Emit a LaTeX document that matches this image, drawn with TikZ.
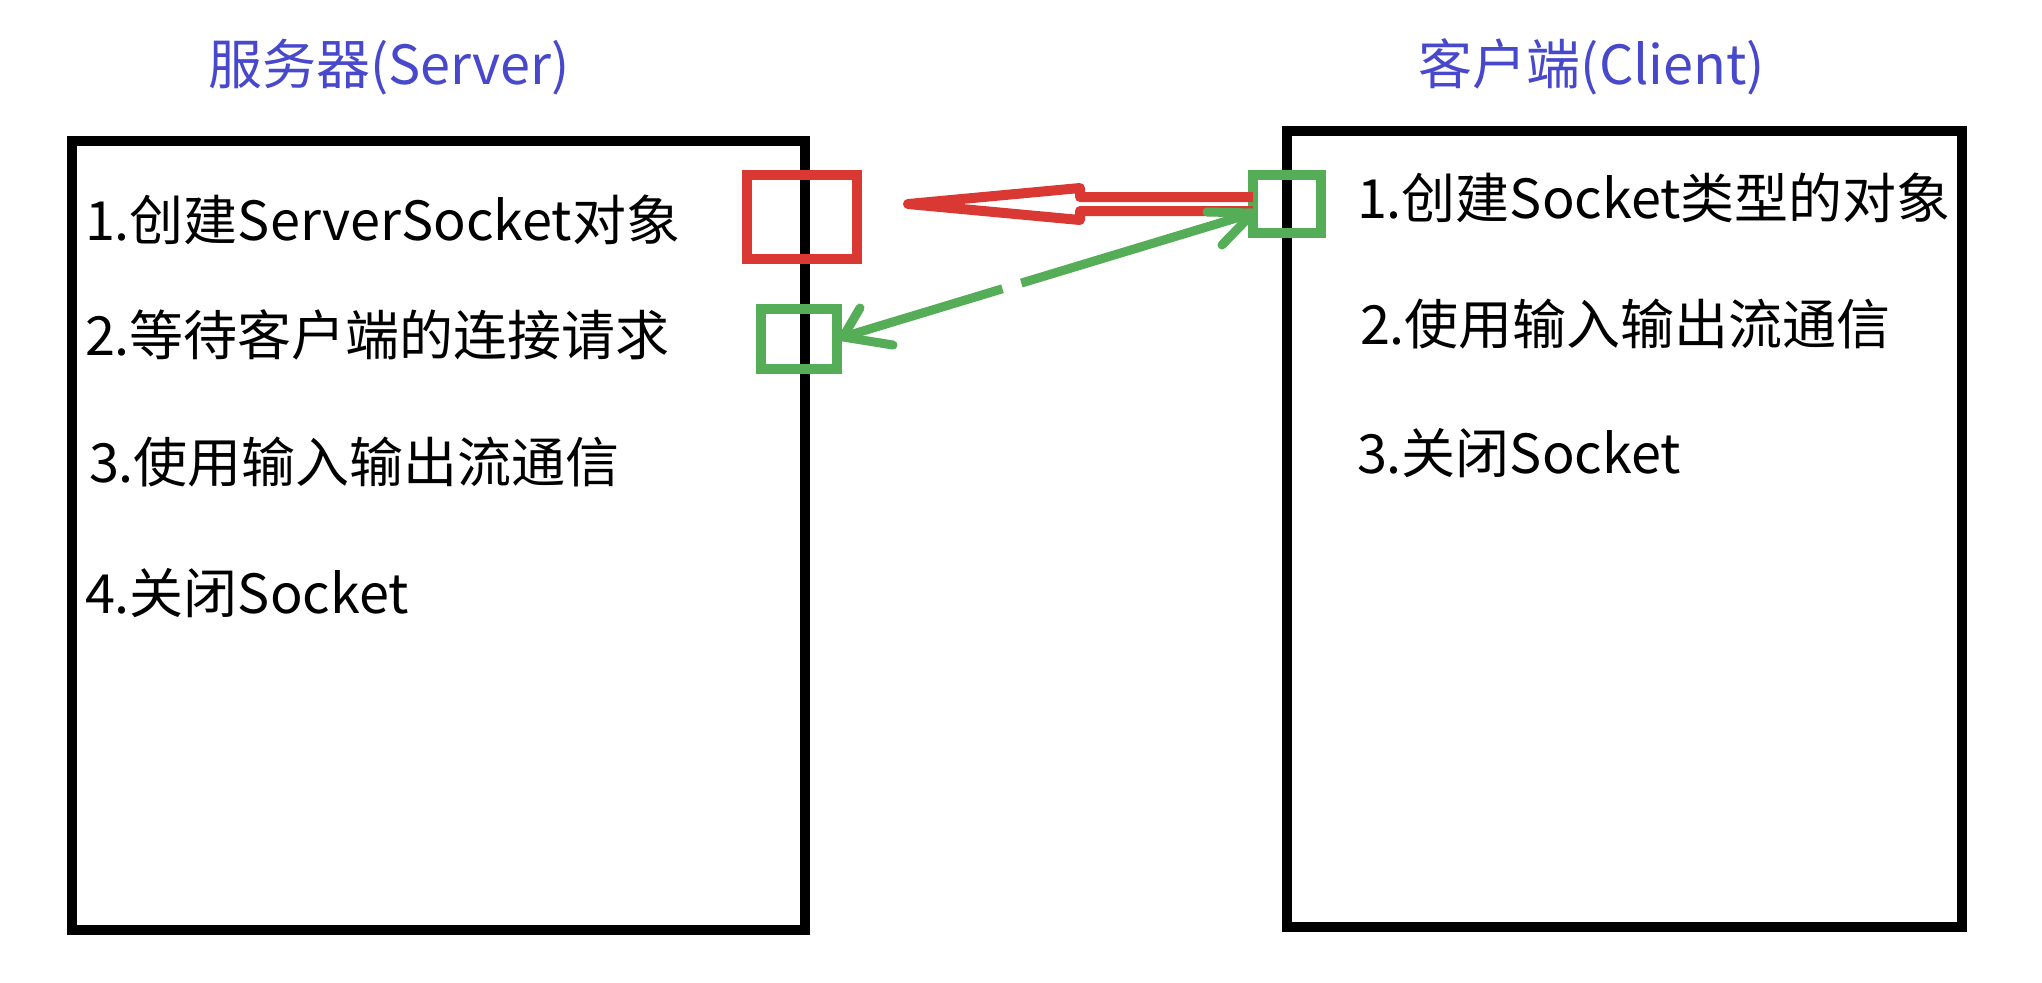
\documentclass[tikz,border=0pt]{standalone}
\usepackage{fontspec}
\setmainfont{Noto Sans CJK SC}
\usetikzlibrary{calc}
\definecolor{tblue}{RGB}{72,72,204}
\definecolor{mred}{RGB}{217,56,51}
\definecolor{mgreen}{RGB}{85,174,87}
\begin{document}
\begin{tikzpicture}[x=0.5pt,y=-0.5pt,
  every node/.style={inner sep=0pt, outer sep=0pt},
  title/.style={text=tblue, font=\fontsize{27}{32}\selectfont},
  item/.style={anchor=west, font=\fontsize{27}{32}\selectfont},
  panel/.style={draw=black, line width=5pt},
  redsq/.style={draw=mred, line width=5pt},
  greensq/.style={draw=mgreen, line width=5pt},
  redarrow/.style={draw=mred, line width=5pt, line join=round},
  gline/.style={draw=mgreen, line width=4.5pt},
  gbarb/.style={draw=mgreen, line width=4.5pt, line cap=round, line join=round}]
\fill[white] (0,0) rectangle (2042,982);
\useasboundingbox (0,0) rectangle (2042,982);
% panels
\node[panel, minimum width=366.5pt, minimum height=394.5pt] (server) at (438.5,535.5) {};
\node[panel, minimum width=337.5pt, minimum height=398pt] (client) at (1624.5,529) {};
% titles
\node[title] (st) at (389,67) {服务器(Server)};
\node[title] (ct) at (1592,67) {客户端(Client)};
% server steps
\node[item] (s1) at (85,220) {1.创建ServerSocket对象};
\node[item] (s2) at (85,335) {2.等待客户端的连接请求};
\node[item] (s3) at (89,462) {3.使用输入输出流通信};
\node[item] (s4) at (85,593) {4.关闭Socket};
% client steps
\node[item] (c1) at (1357,198) {1.创建Socket类型的对象};
\node[item] (c2) at (1360,324) {2.使用输入输出流通信};
\node[item] (c3) at (1357,453) {3.关闭Socket};
% marker squares
\node[redsq, minimum width=55pt, minimum height=42pt] (rs) at (802,217) {};
\node[greensq, minimum width=38pt, minimum height=30pt] (gs) at (799,339) {};
\node[greensq, minimum width=34pt, minimum height=29pt] (cs) at (1287,204) {};
% red hollow arrow
\coordinate (rtip) at (908,204);
\coordinate (rb1) at (1080,197);
\coordinate (rb2) at (1080,188);
\coordinate (rb3) at (1080,220);
\coordinate (rb4) at (1080,211);
\draw[redarrow] ([yshift=3.5pt]cs.west) -- (rb1) -- (rb2) -- (rtip) -- (rb3) -- (rb4) -- ([yshift=-3.5pt]cs.west);
% green double arrow
\coordinate (ga) at ([xshift=3pt,yshift=1pt]gs.east);
\coordinate (gb) at ([yshift=-4.5pt]cs.west);
\draw[gline] (ga) -- ($(ga)!0.389!(gb)$);
\draw[gline] ($(ga)!0.435!(gb)$) -- (gb);
\coordinate (ga1) at (860,308);
\coordinate (ga2) at (893,345);
\coordinate (gb1) at (1207,212);
\coordinate (gb2) at (1222,245);
\draw[gbarb] (ga1) -- (ga) -- (ga2);
\draw[gbarb] (gb1) -- (gb) -- (gb2);
\end{tikzpicture}
\end{document}
